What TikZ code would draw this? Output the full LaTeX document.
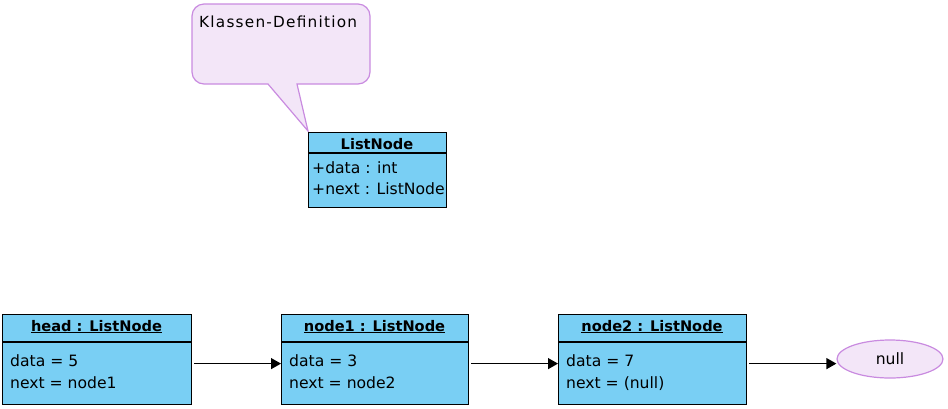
\documentclass[tikz,border=0pt]{standalone}
\usepackage{fontspec}
\setmainfont{DejaVu Sans}
\newfontfamily\spacedfont[LetterSpace=8]{DejaVu Sans}
\usetikzlibrary{arrows.meta,shapes.geometric}
\definecolor{boxblue}{HTML}{79CFF4}
\definecolor{notefill}{HTML}{F3E6F8}
\definecolor{notedraw}{HTML}{C98BE0}
\tikzset{
  objbox/.style={draw=black, line width=1.2pt, fill=boxblue, rectangle, anchor=north west, inner sep=0pt},
  txt/.style={font=\fontsize{15.6}{22}\selectfont, inner sep=0pt, anchor=base west},
  ttl/.style={font=\fontsize{14.6}{22}\selectfont\bfseries, inner sep=0pt, anchor=base},
  link/.style={line width=1.2pt, -{Triangle[length=10pt,width=11pt]}},
  sep/.style={line width=1.2pt}
}
\begin{document}
\begin{tikzpicture}[x=1pt,y=-1pt]
\useasboundingbox (0,0) rectangle (948,408);
% callout note
\draw[fill=notefill, draw=notedraw, line width=1.2pt]
  (204,4) -- (358,4) .. controls (364.6,4) and (370,9.4) .. (370,16)
  -- (370,72) .. controls (370,78.6) and (364.6,84) .. (358,84)
  -- (297,84) -- (308,131) -- (268,84)
  -- (204,84) .. controls (197.4,84) and (192,78.6) .. (192,72)
  -- (192,16) .. controls (192,9.4) and (197.4,4) .. (204,4) -- cycle;
\node[inner sep=0pt, anchor=base west, font=\fontsize{15.3}{18}\selectfont\spacedfont] (notetext) at (199,27) {Klassen-Definition};
% class box
\node[objbox, minimum width=138pt, minimum height=75pt] (cls) at (308,132) {};
\draw[sep] (cls.west |- 0,153) coordinate (cs1) -- (cls.east |- 0,153) coordinate (cs2);
\node[ttl] (clsname) at (377,149) {ListNode};
\node[txt] (attr1) at (312,173) {+data : int};
\node[txt] (attr2) at (312,194) {+next : ListNode};
% object boxes
\node[objbox, minimum width=189pt, minimum height=90pt] (head) at (2,314) {};
\node[objbox, minimum width=187pt, minimum height=90pt] (n1) at (281,314) {};
\node[objbox, minimum width=188pt, minimum height=90pt] (n2) at (558,314) {};
\foreach \b in {head,n1,n2}{
  \draw[sep] (\b.west |- 0,342) -- (\b.east |- 0,342);
}
\node[ttl] (headt) at (96.5,331) {\underline{head : ListNode}};
\node[ttl] (n1t) at (374.5,331) {\underline{node1 : ListNode}};
\node[ttl] (n2t) at (652,331) {\underline{node2 : ListNode}};
\node[txt] (hd) at (10,366) {data = 5};
\node[txt] (hn) at (10,388) {next = node1};
\node[txt] (n1d) at (289,366) {data = 3};
\node[txt] (n1n) at (289,388) {next = node2};
\node[txt] (n2d) at (566,366) {data = 7};
\node[txt] (n2n) at (566,388) {next = (null)};
% null ellipse
\node[ellipse, draw=notedraw, fill=notefill, line width=1.2pt, minimum width=106pt, minimum height=38pt, inner sep=0pt, font=\fontsize{15.6}{18}\selectfont] (null) at (890,359) {null};
% links
\coordinate (s1) at ([xshift=2pt,yshift=-4pt]head.east);
\coordinate (s2) at ([xshift=2pt,yshift=-4pt]n1.east);
\coordinate (s3) at ([xshift=2pt,yshift=-4pt]n2.east);
\draw[link] (s1) -- (s1 -| n1.west);
\draw[link] (s2) -- (s2 -| n2.west);
\draw[link] (s3) -- (s3 -| null.west);
\end{tikzpicture}
\end{document}
